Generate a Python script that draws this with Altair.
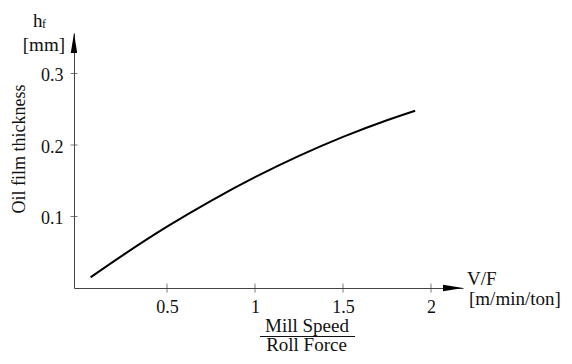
import altair as alt
import pandas as pd

# curve data (V/F in m/min/ton, oil film thickness in mm)
vf = [0.066, 0.25, 0.5, 0.75, 1.0, 1.25, 1.5, 1.75, 1.91]
hf = [0.015, 0.046, 0.0857, 0.1219, 0.155, 0.1848, 0.2114, 0.2347, 0.248]
x_ticks = [0.5, 1, 1.5, 2]
y_ticks = [0.1, 0.2, 0.3]

W, H = 389, 255
PX_PER_X = 176.0
PX_PER_Y = 715.0
x_dom = [-5 / PX_PER_X, (W - 5) / PX_PER_X]
y_dom = [0, H / PX_PER_Y]

FONT = "Liberation Serif"
INK = "#111111"
AX = "#444444"

curve_df = pd.DataFrame({"vf": vf, "hf": hf})
xt_df = pd.DataFrame({"v": x_ticks})
yt_df = pd.DataFrame({"v": y_ticks})
one = pd.DataFrame({"a": [0]})

xs = alt.Scale(domain=x_dom, nice=False, zero=False)
ys = alt.Scale(domain=y_dom, nice=False, zero=False)

xaxis = alt.Axis(values=x_ticks, format="~g", grid=False, ticks=False, tickSize=0,
                 domainColor=AX, domainWidth=1, labelFont=FONT, labelFontSize=18,
                 labelColor=INK, labelPadding=10, title=None)
yaxis = alt.Axis(values=y_ticks, format="~g", grid=False, ticks=False, tickSize=0,
                 domainColor=AX, domainWidth=1, labelFont=FONT, labelFontSize=18,
                 labelColor=INK, labelPadding=11, labelOffset=2, title=None)

curve = alt.Chart(curve_df).mark_line(color="black", strokeWidth=2, interpolate="monotone").encode(
    x=alt.X("vf:Q", scale=xs, axis=xaxis),
    y=alt.Y("hf:Q", scale=ys, axis=yaxis),
)

xticks = alt.Chart(xt_df).mark_tick(orient="vertical", size=9, thickness=1, color=AX).encode(
    x=alt.X("v:Q", scale=xs), y=alt.value(H)
)
yticks = alt.Chart(yt_df).mark_tick(orient="horizontal", size=7, thickness=1, color=AX).encode(
    y=alt.Y("v:Q", scale=ys), x=alt.value(0)
)

arrow_x = alt.Chart(one).mark_point(shape="M0,0L-1,-0.16L-1,0.16Z", filled=True, opacity=1,
                                    color="black", size=1600, strokeWidth=0).encode(
    x=alt.value(W), y=alt.value(H))
arrow_y = alt.Chart(one).mark_point(shape="M0,0L-0.16,1L0.16,1Z", filled=True, opacity=1,
                                    color="black", size=1600, strokeWidth=0).encode(
    x=alt.value(0), y=alt.value(0))


def label(text, x, y, size=19, align="left", angle=0, baseline="alphabetic"):
    return alt.Chart(pd.DataFrame({"t": [text]})).mark_text(
        font=FONT, fontSize=size, color=INK, align=align, baseline=baseline, angle=angle
    ).encode(text="t:N", x=alt.value(x), y=alt.value(y))


ytitle = label("Oil film thickness", -49, 116, size=18, align="center", angle=270)
h_lab = label("h", -41, -6, size=19)
f_lab = label("f", -32, -5, size=12)
mm_lab = label("[mm]", -9, 18, size=19, align="right")
vf_lab = label("V/F", 393, 252, size=19)
unit_lab = label("[m/min/ton]", 395, 272, size=19)
mill_lab = label("Mill Speed", 233, 299, size=19, align="center")
roll_lab = label("Roll Force", 232.5, 318, size=19, align="center")
frac = alt.Chart(one).mark_rule(color=INK, strokeWidth=1).encode(
    x=alt.value(186), x2=alt.value(281), y=alt.value(303.5))

chart = alt.layer(
    curve, xticks, yticks, arrow_x, arrow_y, ytitle, h_lab, f_lab, mm_lab,
    vf_lab, unit_lab, mill_lab, roll_lab, frac
).properties(
    width=W, height=H,
    autosize=alt.AutoSizeParams(type="none"),
    padding={"left": 66, "top": 25, "right": 101, "bottom": 68},
).configure_view(stroke=None)

chart.save("out.html", embed_options={"renderer": "svg", "actions": False})
